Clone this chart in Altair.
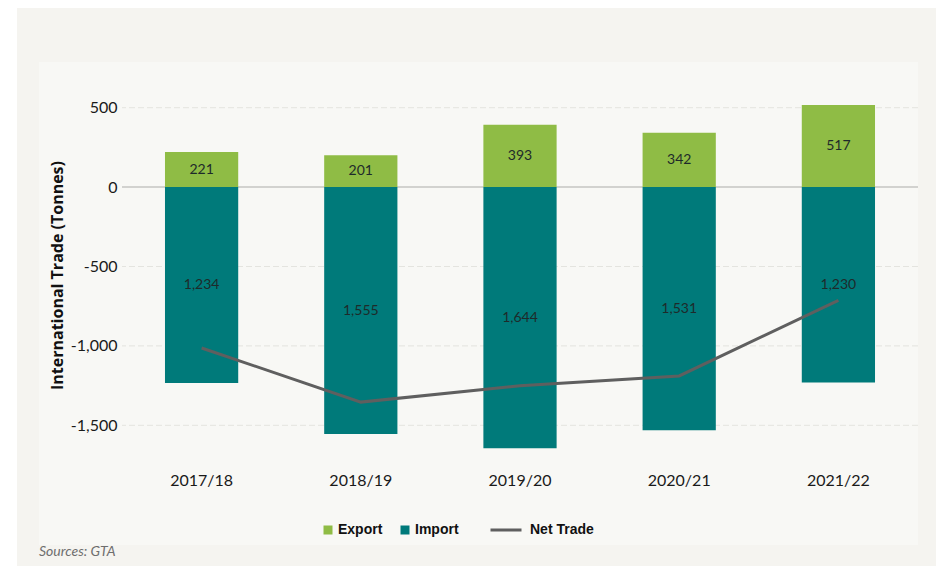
import altair as alt
import pandas as pd

years = ["2017/18", "2018/19", "2019/20", "2020/21", "2021/22"]
exports = [221, 201, 393, 342, 517]
imports = [1234, 1555, 1644, 1531, 1230]
tick_vals = [-1500, -1000, -500, 0, 500]
grid_vals = [-1500, -1000, -500, 500]

W, H = 796, 397
FONT = "Lato"

rows = []
for y, e, i in zip(years, exports, imports):
    rows.append({"year": y, "series": "Export", "lo": 0, "hi": e, "mid": e / 2, "val": e})
    rows.append({"year": y, "series": "Import", "lo": -i, "hi": 0, "mid": -i / 2, "val": i})
bars_df = pd.DataFrame(rows)
net_df = pd.DataFrame({"year": years,
                       "net": [e - i for e, i in zip(exports, imports)],
                       "series": ["Net Trade"] * len(years)})
grid_df = pd.DataFrame({"v": grid_vals})
zero_df = pd.DataFrame({"v": [0]})

xenc = alt.X("year:N", sort=years, title=None,
             scale=alt.Scale(paddingInner=0.54, paddingOuter=0.27),
             axis=alt.Axis(labelAngle=0, labelFont=FONT, labelFontSize=16,
                           labelColor="#1a1a1a", labelPadding=7, ticks=False,
                           tickSize=0, domain=False, grid=False, zindex=1))
yscale = alt.Scale(domain=[-1750, 750], nice=False, zero=False)

outer = alt.Chart(alt.Data(values=[{}])).mark_rect(fill="#f5f4f0").encode(
    x=alt.value(-105), x2=alt.value(W + 18), y=alt.value(-60), y2=alt.value(H + 101))
panel = alt.Chart(alt.Data(values=[{}])).mark_rect(fill="#f8f8f5").encode(
    x=alt.value(-83), x2=alt.value(W), y=alt.value(-6), y2=alt.value(477))

grid = alt.Chart(grid_df).mark_rule(color="#e4e4df", strokeWidth=1, strokeDash=[6, 3]).encode(
    y=alt.Y("v:Q", scale=yscale))
zero = alt.Chart(zero_df).mark_rule(color="#c6c6c2", strokeWidth=1.5).encode(
    y=alt.Y("v:Q", scale=yscale))

bars = alt.Chart(bars_df).mark_bar().encode(
    x=xenc,
    y=alt.Y("lo:Q", scale=yscale,
            title="International Trade (Tonnes)",
            axis=alt.Axis(values=tick_vals,
                          labelExpr="(datum.value < 0 ? '-' : '') + format(abs(datum.value), ',')",
                          labelFont=FONT, labelFontSize=16, labelColor="#1a1a1a",
                          labelPadding=5, ticks=False, tickSize=0, domain=False,
                          grid=False, titleFont="Open Sans", titleFontSize=16,
                          titleFontWeight="bold", titleColor="#111",
                          titleAngle=270, titleAlign="center", titleBaseline="middle",
                          titleX=-65, titleY=207, zindex=1)),
    y2="hi:Q",
    color=alt.Color("series:N", title=None,
                    scale=alt.Scale(domain=["Export", "Import"], range=["#8fbc45", "#007a7a"]),
                    legend=alt.Legend(orient="none", legendX=199, legendY=455,
                                      direction="horizontal", symbolType="square",
                                      symbolSize=81, symbolStrokeWidth=0,
                                      labelFont="Liberation Sans", labelFontWeight="bold",
                                      labelFontSize=14, labelColor="#111",
                                      labelOffset=3, columnPadding=15, padding=0)),
)

labels = alt.Chart(bars_df).mark_text(font=FONT, fontSize=14, color="#1e2a2a").encode(
    x=alt.X("year:N", sort=years),
    y=alt.Y("mid:Q", scale=yscale),
    text=alt.Text("val:Q", format=","),
)

line = alt.Chart(net_df).mark_line(strokeWidth=3).encode(
    x=alt.X("year:N", sort=years),
    y=alt.Y("net:Q", scale=yscale),
    stroke=alt.Stroke("series:N", title=None,
                      scale=alt.Scale(domain=["Net Trade"], range=["#5f5f5f"]),
                      legend=alt.Legend(orient="none", legendX=367, legendY=445,
                                        direction="horizontal", symbolType="stroke",
                                        symbolSize=961, symbolStrokeWidth=3,
                                        symbolStrokeColor="#333",
                                        labelFont="Liberation Sans", labelFontWeight="bold",
                                        labelFontSize=14, labelColor="#111",
                                        labelOffset=7, padding=0)),
)

source = alt.Chart(alt.Data(values=[{}])).mark_text(
    text="Sources: GTA", font=FONT, fontStyle="italic", fontSize=14,
    color="#6e6e6e", align="left", baseline="middle").encode(
    x=alt.value(-83), y=alt.value(484))

chart = alt.layer(outer, panel, grid, zero, bars, labels, line, source).properties(
    width=W, height=H,
    autosize=alt.AutoSizeParams(type="none"),
    padding={"left": 114, "top": 60, "right": 18, "bottom": 101},
    background="white",
).resolve_scale(color="independent").configure_view(stroke=None)

chart.save("out.html", embed_options={"renderer": "svg", "actions": False})
